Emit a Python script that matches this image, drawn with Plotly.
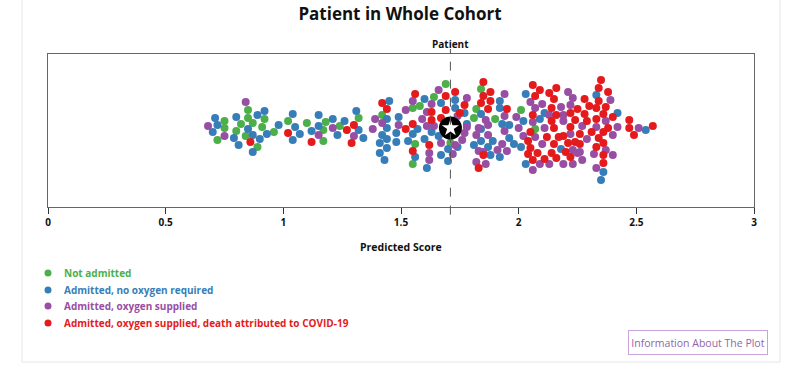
import plotly.graph_objects as go

# ---- data: predicted score and beeswarm offset per outcome group ----
not_admitted_score = [0.85, 0.85, 0.92, 0.75, 0.82, 0.87, 0.75, 0.80, 0.91, 0.84,
                      0.96, 0.72, 0.89, 1.02, 1.10, 1.18, 1.32, 1.17, 1.24, 1.17,
                      1.42, 1.55, 1.58, 1.64, 1.69, 1.82, 1.81, 1.71, 1.56, 1.55,
                      1.84, 1.90, 2.01, 2.07]
not_admitted_offset = [18, 10, 9, 7, 4, 5, 0, -3, 1, -8,
                       -4, -12, -19, 7, 5, 6, 10, -2, 2, -13,
                       13, 20, 22, 31, 44, 19, 10, -15, -16, -36,
                       39, 9, 18, -1]

no_oxygen_score = [0.92, 0.80, 0.89, 0.71, 0.72, 0.85, 0.98, 0.70, 0.79, 0.87,
                   0.93, 0.90, 0.81, 0.87, 1.04, 1.05, 1.07, 1.04, 1.15, 1.21,
                   1.26, 1.31, 1.15, 1.12, 1.32, 1.23, 1.34, 1.45, 1.44, 1.44,
                   1.42, 1.44, 1.41, 1.44, 1.41, 1.43, 1.49, 1.48, 1.48, 1.60,
                   1.67, 1.73, 1.73, 1.77, 1.78, 1.70, 1.70, 1.67, 1.66, 1.57,
                   1.55, 1.53, 1.60, 1.63, 1.56, 1.61, 1.81, 1.84, 1.84, 1.92,
                   1.92, 1.93, 1.96, 1.96, 1.98, 1.89, 1.87, 1.88, 1.92, 2.02,
                   2.01, 2.03, 2.11, 2.09, 2.03, 2.18, 2.33, 2.42, 2.36, 2.35,
                   2.54, 1.84, 1.74]
no_oxygen_offset = [17, 11, 13, 10, 3, -1, 3, -4, -10, -7,
                    -6, -11, -17, -24, 14, 1, -6, -12, 13, 9,
                    7, 17, 2, -3, -2, -7, -10, 27, 9, 0,
                    -7, -11, -15, -20, -25, -32, 11, -5, -14, 29,
                    25, 28, 20, 15, 4, -33, -21, -27, -8, -1,
                    -6, -13, -11, -4, -29, -40, -17, 14, -13, 27,
                    20, 4, 3, -10, -16, -13, -19, -27, -29, 7,
                    -19, 34, 15, 9, -36, -21, 33, 15, -44, -52,
                    -2, -1, -19]

oxygen_score = [0.84, 0.68, 0.75, 1.21, 1.15, 1.30, 1.38, 1.39, 1.42, 1.49,
                1.52, 1.55, 1.61, 1.63, 1.66, 1.78, 1.78, 1.77, 1.76, 1.73,
                1.72, 1.67, 1.64, 1.61, 1.59, 1.62, 1.62, 1.83, 1.82, 1.83,
                1.82, 1.94, 1.94, 1.86, 1.87, 1.94, 1.87, 1.93, 1.91, 1.95,
                1.85, 1.86, 1.99, 2.00, 2.02, 2.05, 2.07, 2.10, 2.06, 2.11,
                2.07, 2.10, 2.09, 2.06, 2.13, 2.18, 2.13, 2.21, 2.22, 2.19,
                2.19, 2.22, 2.23, 2.19, 2.25, 2.23, 2.39, 2.37, 2.27, 2.33,
                2.42, 2.40, 2.29, 2.37, 2.26, 2.40, 2.32, 2.27, 2.23, 2.33,
                2.51, 1.74]
oxygen_offset = [26, 2, -8, 0, -7, -8, -1, 9, 5, 3,
                 18, 27, 16, 24, 38, 30, 1, -5, -12, -17,
                 -26, -15, 2, 2, 9, -25, -32, 0, -7, -23,
                 -34, 34, 12, 8, 3, -3, -7, -16, -22, -23,
                 -24, -36, 11, 0, -8, 26, 20, 24, 6, 0,
                 -9, -16, -36, -42, -36, 21, 13, 36, 23, 13,
                 7, -6, -22, -36, -25, 30, 28, 7, 2, 1,
                 1, -7, -11, -22, -24, -27, -26, -32, -36, -40,
                 0, 12]

death_score = [0.86, 1.02, 1.27, 1.30, 1.12, 1.29, 1.42, 1.44, 1.56, 1.69,
               1.69, 1.63, 1.73, 1.77, 1.75, 1.84, 1.85, 1.67, 1.55, 1.52,
               1.62, 1.55, 1.85, 1.83, 1.88, 1.85, 1.88, 1.87, 1.95, 2.06,
               2.09, 2.07, 2.06, 2.05, 2.04, 2.05, 2.04, 2.08, 2.12, 2.06,
               2.11, 2.13, 2.16, 2.15, 2.14, 2.16, 2.14, 2.15, 2.17, 2.15,
               2.16, 2.22, 2.25, 2.24, 2.22, 2.19, 2.21, 2.24, 2.20, 2.22,
               2.35, 2.34, 2.38, 2.34, 2.28, 2.30, 2.33, 2.37, 2.28, 2.36,
               2.40, 2.29, 2.33, 2.38, 2.31, 2.36, 2.26, 2.34, 2.36, 2.26,
               2.33, 2.36, 2.36, 2.47, 2.47, 2.49, 2.57, 1.63, 2.14]
death_offset = [-14, -5, -2, 3, -14, -15, 25, 19, 34, 32,
                18, 16, 36, 23, 15, 25, 46, 10, 4, -1,
                -17, -23, -27, -40, 36, 32, 27, 19, 19, 43,
                38, 32, 13, -4, -13, -20, -26, -25, -9, -32,
                -31, 35, 40, 29, 20, 13, 7, 0, -9, -16,
                -30, 15, 19, 8, 1, -8, -15, -14, -24, -29,
                48, 40, 36, 27, 29, 22, 20, 21, 14, 14,
                11, 7, 9, 0, -4, -4, -6, -10, -15, -16,
                -19, -27, -35, 8, 0, -7, 2, 8, -25]

patient_score = [1.71]
patient_offset = [0]

groups = [
    ("Not admitted", not_admitted_score, not_admitted_offset, "#4daf4a"),
    ("Admitted, no oxygen required", no_oxygen_score, no_oxygen_offset, "#377eb8"),
    ("Admitted, oxygen supplied", oxygen_score, oxygen_offset, "#984ea3"),
    ("Admitted, oxygen supplied, death attributed to COVID-19", death_score, death_offset, "#e41a1c"),
]

x_ticks = [0, 0.5, 1, 1.5, 2, 2.5, 3]
x_tick_labels = ["0", "0.5", "1", "1.5", "2", "2.5", "3"]

FONT = "Open Sans, Noto Sans, sans-serif"
W, H = 800, 366
L, R, T, B = 48, 800 - 754, 54, 366 - 207


def px_x(px):
    # window pixel -> paper x
    return (px - L) / (W - L - R)


def px_y(py):
    # window pixel -> paper y
    return (H - B - py) / (H - T - B)


fig = go.Figure()
for name, score, offset, color in groups:
    fig.add_trace(go.Scatter(
        x=score, y=offset, mode="markers", name=name,
        marker=dict(size=8, color=color, line=dict(width=0)),
        showlegend=False,
    ))

fig.add_trace(go.Scatter(
    x=patient_score, y=patient_offset, mode="markers",
    marker=dict(size=23, color="black", line=dict(width=0)),
    showlegend=False, hoverinfo="skip",
))
fig.add_trace(go.Scatter(
    x=patient_score, y=patient_offset, mode="markers",
    marker=dict(size=13, color="white", symbol="star", line=dict(width=0)),
    showlegend=False, hoverinfo="skip",
))

shapes = [
    dict(type="line", xref="x", yref="paper", x0=patient_score[0], x1=patient_score[0],
         y0=-0.05, y1=1, line=dict(color="#555", width=1, dash="dash")),
    dict(type="line", xref="x", yref="paper", x0=patient_score[0], x1=patient_score[0],
         y0=1, y1=px_y(49), line=dict(color="#555", width=1)),
    # page panel borders
    dict(type="line", xref="paper", yref="paper", x0=px_x(22), x1=px_x(22),
         y0=px_y(0), y1=px_y(362), line=dict(color="#e6e6e6", width=1)),
    dict(type="line", xref="paper", yref="paper", x0=px_x(780), x1=px_x(780),
         y0=px_y(0), y1=px_y(362), line=dict(color="#e6e6e6", width=1)),
    dict(type="line", xref="paper", yref="paper", x0=px_x(22), x1=px_x(780),
         y0=px_y(362), y1=px_y(362), line=dict(color="#e6e6e6", width=1)),
]

annotations = [
    dict(text="<b>Patient</b>", x=patient_score[0], xref="x", y=px_y(44), yref="paper",
         showarrow=False, font=dict(size=10, color="#111", family=FONT), yanchor="middle"),
    dict(text="<b>Predicted Score</b>", x=0.5, xref="paper", y=px_y(247), yref="paper",
         showarrow=False, font=dict(size=10.5, color="#111", family=FONT), yanchor="middle"),
    dict(text="Information About The Plot", x=px_x(698), xref="paper", y=px_y(342), yref="paper",
         xanchor="center", yanchor="middle",
         showarrow=False, width=136, height=21, bordercolor="#c9a3dc", borderwidth=1,
         font=dict(size=10.5, color="#8f66a8", family=FONT)),
]

legend_rows = [273, 290, 306, 323]
for (name, _, _, color), row in zip(groups, legend_rows):
    shapes.append(dict(type="circle", xref="paper", yref="paper", xsizemode="pixel", ysizemode="pixel",
                       xanchor=px_x(48), yanchor=px_y(row), x0=-3.5, x1=3.5, y0=-3.5, y1=3.5,
                       fillcolor=color, line=dict(width=0)))
    annotations.append(dict(text=f"<b>{name}</b>", x=px_x(62), xref="paper", y=px_y(row), yref="paper",
                            xanchor="left", yanchor="middle", showarrow=False,
                            font=dict(size=10, color=color, family=FONT)))

fig.update_layout(
    width=W, height=H,
    margin=dict(l=L, r=R, t=T, b=B, pad=0),
    paper_bgcolor="white", plot_bgcolor="white",
    title=dict(text="<b>Patient in Whole Cohort</b>", x=px_x(400), xref="paper", xanchor="center",
               y=1 - 14 / H, yref="container", yanchor="middle",
               font=dict(size=17, color="#111", family=FONT)),
    shapes=shapes, annotations=annotations,
    font=dict(family=FONT),
)
fig.update_xaxes(range=[0, 3], tickvals=x_ticks, ticktext=x_tick_labels,
                 ticks="outside", ticklen=6, tickcolor="#333", showline=True, linecolor="#666",
                 mirror=True, showgrid=False, zeroline=False,
                 tickfont=dict(size=10, color="#111", family=FONT, weight="bold"))
fig.update_yaxes(range=[-79, 74], showticklabels=False, showline=True, linecolor="#666",
                 mirror=True, showgrid=False, zeroline=False, ticks="")

# drop the default 8px page margin so the figure fills the window exactly
fig.write_html("out.html", config={"displayModeBar": False},
               post_script="document.body.style.margin = '0';")
